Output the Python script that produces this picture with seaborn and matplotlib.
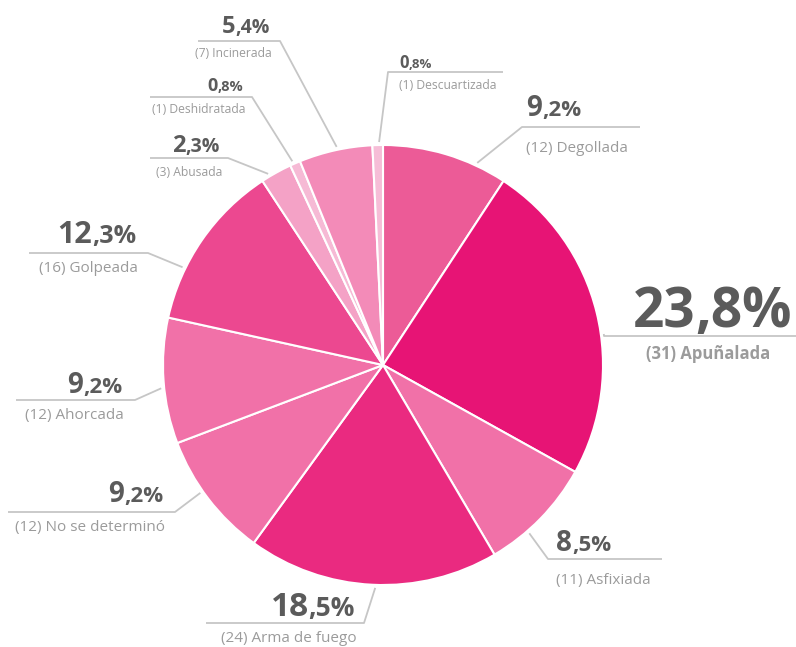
import numpy as np
import seaborn as sns
from matplotlib import pyplot

sns.set_style("white")
pyplot.rcParams['font.family'] = ['Open Sans', 'DejaVu Sans']

# slices clockwise from 12 o'clock
categories = ['Degollada', 'Apuñalada', 'Asfixiada', 'Arma de fuego', 'No se determinó',
              'Ahorcada', 'Golpeada', 'Abusada', 'Deshidratada', 'Incinerada', 'Descuartizada']
counts = [12, 31, 11, 24, 12, 12, 16, 3, 1, 7, 1]
colors = ['#ec5b97', '#e71475', '#f171a8', '#ea2a80', '#f171a8', '#f171a8',
          '#ec4890', '#f4a2c6', '#f6bad5', '#f38bb8', '#f6bdd7']

W, H = 796, 647
CX, CY, R = 383, 365, 220

# label layout in pixel coords (y down): text x, pct baseline, label baseline, align,
# pct sizes (int, decimals), label size, leader (angle, elbow x, elbow y, end x)
layout = {
    'Degollada':       (526, 116, 152, 'left', 20, 16, 11, 65, 522, 127, 640),
    'Apuñalada':       (633, 327, 359, 'left', 39.5, 39.5, 12, 8, 604, 336, 796),
    'Asfixiada':       (556, 551, 584, 'left', 20, 16, 11, -49, 548, 559, 662),
    'Arma de fuego':   (355, 616, 642, 'right', 24, 19, 11, -92, 364, 623, 206),
    'No se determinó': (163, 502, 531, 'right', 20, 16, 11, -145, 175, 512, 8),
    'Ahorcada':        (122, 393, 419, 'right', 20, 16, 11, -174, 135, 400, 16),
    'Golpeada':        (136, 243, 272, 'right', 22, 18, 11, 154, 148, 253, 29),
    'Abusada':         (220, 152, 176, 'right', 17, 14, 8.7, 121, 228, 158, 150),
    'Deshidratada':    (243, 91, 113, 'right', 13, 10.5, 8.7, 114, 252, 97, 150),
    'Incinerada':      (270, 33, 57, 'right', 17, 14, 8.7, 102, 280, 41, 198),
    'Descuartizada':   (399, 68, 89, 'left', 12, 9.5, 8.7, 91, 388, 72, 503),
}

PCT_COLOR = '#5b5b5b'
LBL_COLOR = '#9b9b9b'
LINE_COLOR = '#c6c6c6'

total = sum(counts)

fig = pyplot.figure(figsize=(W / 100, H / 100), dpi=100)
ax = fig.add_axes([0, 0, 1, 1])
ax.pie(counts, colors=colors, startangle=90, counterclock=False,
       center=(CX, H - CY), radius=R,
       wedgeprops=dict(edgecolor='white', linewidth=1.5))
ax.set_xlim(0, W)
ax.set_ylim(0, H)
ax.set_aspect('equal')
ax.axis('off')

renderer = fig.canvas.get_renderer()

for cat, n in zip(categories, counts):
    x, yp, yl, ha, s_int, s_dec, s_lbl, ang, ex, ey, endx = layout[cat]
    txt = f"{100 * n / total:.1f}".replace('.', ',')
    int_part, dec_part = txt.split(',')
    dec_part = ',' + dec_part + '%'

    # leader line
    a = np.deg2rad(ang)
    sx, sy = CX + (R + 3) * np.cos(a), CY - (R + 3) * np.sin(a)
    ax.plot([sx, ex, endx], [H - sy, H - ey, H - ey], color=LINE_COLOR, lw=1.3,
            solid_capstyle='butt', zorder=1)

    # percentage, decimals drawn smaller
    if ha == 'right':
        t2 = ax.text(x, H - yp, dec_part, ha='right', va='baseline', fontsize=s_dec,
                     fontweight='bold', color=PCT_COLOR)
        w = t2.get_window_extent(renderer).width
        ax.text(x - w, H - yp, int_part, ha='right', va='baseline', fontsize=s_int,
                fontweight='bold', color=PCT_COLOR)
    else:
        t1 = ax.text(x, H - yp, int_part, ha='left', va='baseline', fontsize=s_int,
                     fontweight='bold', color=PCT_COLOR)
        w = t1.get_window_extent(renderer).width
        ax.text(x + w, H - yp, dec_part, ha='left', va='baseline', fontsize=s_dec,
                fontweight='bold', color=PCT_COLOR)

    label = f"({n}) {cat}"
    if cat == 'Apuñalada':
        ax.text(708, H - yl, label, ha='center', va='baseline', fontsize=s_lbl,
                fontweight='bold', color=LBL_COLOR)
    else:
        lx = x + 2 if ha == 'right' else x
        ax.text(lx, H - yl, label, ha=ha, va='baseline', fontsize=s_lbl, color=LBL_COLOR)

pyplot.savefig('out.png', dpi=100)
